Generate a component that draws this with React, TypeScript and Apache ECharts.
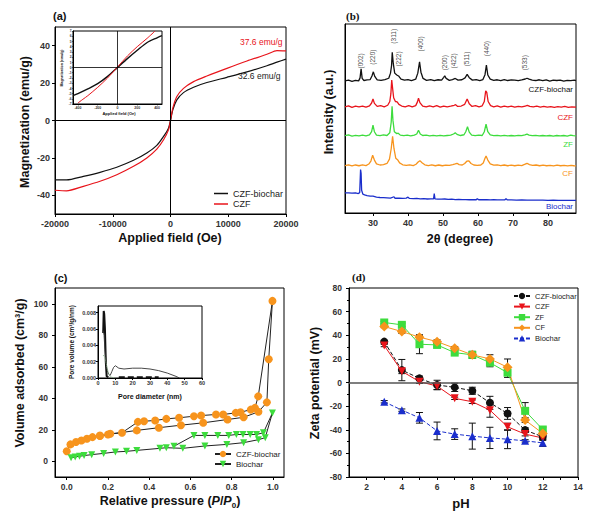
import React, { useEffect, useRef } from "react";
import * as echarts from "echarts";

// ---------- (a) magnetization ----------
const fieldOe = [-20000, -18000, -15090, -12200, -9300, -6400, -4100, -2370, -1200, -350, 0, 400, 1100, 2250, 4000, 6300, 9770, 13240, 16700, 18440, 20000];
const magCZFbiochar = [-31.8, -31.8, -29.9, -27.7, -25.0, -21.3, -17.4, -13.3, -8.5, -4.1, 0, 5.7, 11.0, 14.9, 17.8, 20.3, 23.1, 26.0, 29.3, 31.2, 32.8];
const magCZF = [-37.3, -37.6, -35.2, -32.5, -29.0, -24.5, -20.0, -15.3, -10.3, -5.0, 0, 6.6, 12.8, 17.2, 20.8, 23.8, 27.9, 31.8, 35.4, 37.4, 37.2];
const insetFieldBlack = [-450, -400, -300, -200, -100, 0, 100, 200, 300, 400, 450];
const insetMagBlack = [-5.4, -5.0, -4.1, -3.1, -1.7, 0, 1.7, 3.3, 4.8, 5.7, 6.1];
const insetFieldRed = [-400, -350, -300, -200, -100, 0, 100, 200, 300, 380];
const insetMagRed = [-6.8, -6.1, -5.4, -3.8, -2.0, 0.1, 2.2, 4.0, 5.6, 7.0];
const magTicks = [-40, -20, 0, 20, 40];
const fieldTicks = [-20000, -10000, 0, 10000, 20000];
const insetFieldTicks = [-400, -200, 0, 200, 400];

// ---------- (b) XRD ----------
const xrdCZFbiochar = [[22,69.9],[23,70.3],[24,69.7],[25,70.2],[25.9,69.9],[26.3,71.5],[26.6,76.3],[26.9,71.2],[27.4,70.1],[28.3,70.4],[29.2,70.6],[29.7,72.5],[30.1,74.7],[30.5,72.3],[31.2,70.4],[32.3,70.2],[33.4,70.6],[34.5,71.3],[35,74],[35.3,78],[35.5,85],[35.8,79],[36.2,74],[36.8,73],[37.3,72.5],[38,70.8],[39,70.3],[40,70.6],[41,70.1],[42.2,70.8],[42.8,74],[43.3,80],[43.7,74.5],[44.3,71.2],[45.3,70.2],[46.5,70.6],[47.5,70.0],[48.6,70.5],[49.6,70.3],[50.2,71.8],[50.5,72.6],[50.9,71.2],[51.8,70.2],[52.7,70.6],[53.5,71.2],[54.3,70.3],[55.4,70.5],[56.3,71.5],[56.9,73.3],[57.5,71.6],[58.4,70.3],[59.5,70.6],[60.5,70.1],[61.4,70.6],[62,73.2],[62.4,78.3],[62.8,73],[63.5,70.8],[64.5,70.2],[65.5,70.5],[66.5,70],[67.5,70.6],[68.5,70.1],[69.5,70.4],[70.5,70.3],[71.5,70.0],[72.5,70.4],[73.5,70.9],[74,71.3],[74.6,70.8],[75.5,70.3],[76.5,70.1],[77.5,70.5],[78.5,70.0],[79.5,70.4],[80.5,69.8],[81.5,70.3],[82.5,70.1],[83.5,70.3],[84.5,69.8],[85.5,70.2],[86.5,70.0],[87.5,70.3],[88,70.1]];
const xrdCZF = [[22,56.2],[23,56.7],[24,55.9],[25,56.5],[26,56.1],[27,56.6],[28,56.0],[29,56.7],[29.6,58.2],[30,60.3],[30.4,58],[31.2,56.4],[32.2,56.8],[33.2,56.2],[34.2,57],[34.8,59],[35.1,63],[35.35,70.3],[35.6,66],[35.9,61],[36.4,59],[36.9,58.8],[37.4,57.5],[38.2,56.6],[39.2,56.2],[40.2,56.8],[41.2,56.1],[42.2,56.8],[42.7,58.8],[43,60.8],[43.4,58.4],[44.2,56.5],[45.2,56.1],[46.2,56.7],[47.2,56.2],[48.2,56.8],[49.2,56.0],[50.2,56.6],[51.2,56.2],[52.2,56.5],[53.2,57],[53.6,57.3],[54.2,56.4],[55.2,56.6],[56.2,57.5],[56.9,60.3],[57.5,57.8],[58.3,56.4],[59.3,56.8],[60.3,56.2],[61.2,56.7],[61.8,59],[62.2,64.7],[62.5,63.8],[62.9,59],[63.6,56.8],[64.5,56.2],[65.5,56.7],[66.5,56.0],[67.5,56.6],[68.5,56.1],[69.5,56.5],[70.5,56.0],[71.5,56.4],[72.5,56.1],[73.5,56.6],[74.1,56.9],[74.8,56.4],[75.8,56.1],[76.8,56.5],[77.8,56.0],[78.8,56.4],[79.8,56.0],[80.8,56.3],[81.8,55.9],[82.8,56.3],[83.8,56.0],[84.8,56.4],[85.8,55.9],[86.8,56.2],[88,56.0]];
const xrdZF = [[22,40.9],[23,41.3],[24,40.7],[25,41.1],[26,40.8],[27,41.2],[28,40.8],[29,41.3],[29.6,43],[30,46.5],[30.4,43],[31,41.2],[32,40.9],[33,41.3],[34,41],[34.8,42.5],[35.2,48],[35.45,56.5],[35.7,49],[36.1,43],[36.8,42],[37.2,42.2],[37.8,41.2],[38.8,40.9],[39.8,41.2],[40.8,40.8],[41.8,41.2],[42.5,41.8],[43,43.8],[43.5,41.8],[44.2,41],[45.2,41.2],[46.2,40.8],[47.2,41.1],[48.2,40.8],[49.2,41.1],[50.2,40.8],[51.2,41],[52.2,41.2],[53,41.8],[53.5,42.4],[54,41.6],[55,41],[56,41.4],[56.5,43],[57,45.6],[57.5,42.8],[58.2,41.2],[59.2,40.9],[60.2,41.2],[61.2,41],[61.8,43],[62.3,47],[62.8,43],[63.5,41.3],[64.5,40.9],[65.5,41.1],[66.5,40.8],[67.5,41.1],[68.5,40.8],[69.5,41],[70.5,40.8],[71.5,41.1],[72.5,40.9],[73.4,41.3],[74,41.7],[74.6,41.2],[75.5,40.9],[76.5,41.1],[77.5,40.8],[78.5,41],[79.5,40.8],[80.5,41],[81.5,40.7],[82.5,41],[83.5,40.8],[84.5,41],[85.5,40.7],[86.5,41.2],[87.2,40.9],[88,40.8]];
const xrdCF = [[22,25.1],[23,25.5],[24,24.9],[25,25.4],[26,25],[27,25.5],[28,25.1],[28.8,25.9],[29.4,27.5],[29.9,30.6],[30.4,28],[31,26],[32,25.4],[33,25.6],[34,26.2],[34.7,28.5],[35.2,34],[35.6,40.6],[36,34],[36.5,29],[37.1,28],[37.6,26.5],[38.5,25.5],[39.5,25.2],[40.5,25.5],[41.5,25.1],[42.3,25.8],[42.9,27],[43.4,27.7],[44,26.6],[44.8,25.5],[45.8,25.1],[46.8,25.5],[47.8,25],[48.8,25.4],[49.8,25],[50.8,25.3],[51.8,25.2],[52.8,25.6],[53.5,26],[54,26.3],[54.6,25.6],[55.5,25.4],[56.2,26.2],[56.8,27.4],[57.4,27.6],[58,26.2],[58.8,25.4],[59.8,25.2],[60.8,25.4],[61.5,26.5],[62,29],[62.3,30.2],[62.8,28],[63.5,26],[64.5,25.3],[65.5,25.5],[66.5,25.1],[67.5,25.4],[68.5,25],[69.5,25.3],[70.5,25],[71.5,25.3],[72.5,25.1],[73.3,25.7],[74,26.3],[74.7,25.6],[75.6,25.2],[76.6,25.4],[77.6,25],[78.6,25.3],[79.6,25],[80.6,25.2],[81.6,24.9],[82.6,25.3],[83.6,25],[84.6,25.2],[85.6,24.9],[86.6,25.2],[87.4,25],[88,24.9]];
const xrdBiochar = [[22,10.6],[23,10.7],[24,10.5],[25,10.6],[25.8,10.3],[26.2,10.8],[26.45,23],[26.6,21],[26.75,12],[27.1,10],[27.6,9.6],[28.3,9.2],[29.2,8.9],[30,8.9],[31,8.4],[32,8.2],[33,8.1],[34,8.0],[35,7.9],[36,8.6],[36.3,7.8],[37.5,7.8],[38.5,7.7],[39.5,7.9],[40,8.4],[40.4,7.7],[41.5,7.6],[42.5,7.7],[43.5,7.5],[44.5,7.6],[45.5,7.4],[46.5,7.5],[47.3,7.5],[47.5,10.3],[47.7,7.5],[48.5,7.3],[49.5,7.3],[50.5,7.4],[51.5,7.2],[52.5,7.3],[53.5,7.1],[54.5,7.2],[55.5,7.1],[56.5,7.1],[57.5,7.0],[58.5,7.1],[59.5,7.0],[59.8,7.6],[60.2,7.0],[61.5,7.0],[62.5,7.1],[63.5,6.9],[64.5,7.0],[65.5,6.9],[66.5,6.9],[67.7,7.0],[68,7.6],[68.4,6.9],[69.5,6.9],[71,6.8],[72.5,6.9],[74,6.8],[75.5,6.8],[77,6.8],[78.5,6.8],[80,6.7],[81.5,6.8],[83,6.7],[84.5,6.7],[86,6.7],[88,6.7]];
const hklLabels = ["(002)", "(220)", "(311)", "(222)", "(400)", "(200)", "(422)", "(511)", "(440)", "(533)"];
const hklTheta = [26.5, 29.8, 35.8, 37.2, 43.6, 50.4, 53.1, 56.8, 62.3, 73.4];
const hklHeight = [80.5, 82.5, 93.5, 81.5, 89.5, 79.5, 80.5, 81.5, 87.0, 79.5];
const thetaTicks = [30, 40, 50, 60, 70, 80];

// ---------- (c) N2 isotherms ----------
const pressCZFbiochar = [0.0, 0.018, 0.045, 0.071, 0.098, 0.125, 0.161, 0.2, 0.34, 0.447, 0.554, 0.662, 0.78, 0.858, 0.93, 0.971, 0.98, 0.998, 0.929, 0.913, 0.893, 0.843, 0.82, 0.759, 0.724, 0.652, 0.617, 0.545, 0.483, 0.429, 0.375, 0.345, 0.268, 0.211, 0.161];
const volCZFbiochar = [6.3, 10.7, 12.2, 13.2, 14.3, 15.3, 16.0, 17.0, 19.6, 21.3, 22.9, 24.4, 26.5, 27.9, 31.4, 37.4, 64.8, 101.8, 41.2, 33.9, 32.8, 31.1, 30.7, 29.7, 29.7, 29.0, 28.6, 27.6, 26.9, 25.9, 25.4, 25.0, 18.1, 17.5, 16.3];
const pressBiochar = [0.021, 0.041, 0.062, 0.084, 0.121, 0.179, 0.236, 0.29, 0.34, 0.452, 0.483, 0.563, 0.67, 0.777, 0.858, 0.93, 0.963, 0.998, 0.954, 0.921, 0.89, 0.855, 0.823, 0.786, 0.733, 0.67, 0.617, 0.52];
const volBiochar = [2.3, 2.7, 3.2, 3.6, 4.2, 5.0, 5.9, 6.3, 6.9, 8.2, 8.6, 8.2, 9.7, 10.7, 11.8, 13.7, 15.0, 30.7, 18.1, 17.0, 17.0, 17.0, 17.0, 16.4, 16.4, 16.4, 16.4, 9.5];
const pressTicks = [0, 0.2, 0.4, 0.6, 0.8, 1.0];
const volTicks = [0, 20, 40, 60, 80, 100];
const poreDiaA = [3, 3.3, 3.6, 4, 4.5, 5, 6];
const poreVolA = [0.0055, 0.0082, 0.0078, 0.006, 0.002, 0.0002, 0.0001];
const poreDiaB = [3, 3.5, 4, 5, 6, 7, 8, 9, 10, 12, 15, 20, 25, 30, 35, 40, 45, 47];
const poreVolB = [0.0058, 0.0052, 0.0035, 0.0012, 0.0005, 0.0003, 0.0008, 0.0013, 0.0015, 0.0012, 0.0011, 0.0012, 0.0012, 0.0011, 0.0009, 0.0006, 0.0002, 0];
const poreDiaC = [3, 4, 5, 6, 7, 8, 9, 10];
const poreVolC = [0.0028, 0.0025, 0.0015, 0.0006, 0.0002, 0.0001, 0.00005, 0];
const poreDiaD = [12, 35];
const poreVolD = [0.0001, 0.0001];

// ---------- (d) zeta potential ----------
const pH = [3, 4, 5, 6, 7, 8, 9, 10, 11, 12];
const zetaCZFbiochar = [34.6, 10.5, 3.5, -2.1, -4.1, -7, -17.2, -26.2, -40.3, -46];
const zetaCZF = [31.3, 9.5, 0.7, -3, -13.4, -16.3, -23.4, -37.5, -43.7, -47];
const zetaZF = [50.8, 48.8, 32.4, 31.8, 25.3, 23.4, 16.8, 8.3, -24, -39.8];
const zetaCF = [47.4, 43.1, 38.4, 34.6, 29, 23.4, 20, 12.9, -31.8, -43.1];
const zetaBiochar = [-16.3, -23.4, -29.9, -41, -43.7, -45.4, -46.9, -48, -49.4, -51.1];
const errCZFbiochar = [1, 9, 2, 4, 3.5, 3, 5.5, 5, 2, 2];
const errCZF = [1, 2, 1.5, 3, 1, 1.5, 6, 3, 1.5, 2];
const errZF = [1, 1.5, 8, 1.5, 1.5, 2, 3.5, 4, 7, 2];
const errCF = [1, 1.5, 1.5, 1.5, 1.5, 3, 3.5, 7, 2, 2];
const errBiochar = [1, 1, 4.5, 7.5, 4.5, 11, 9, 8, 1, 3];
const pHLabelTicks = [2, 4, 6, 8, 10, 12, 14];
const pHMinorTicks = [2, 3, 4, 5, 6, 7, 8, 9, 10, 11, 12, 13, 14];

const FONT = "Liberation Sans, Arial, sans-serif";
const BLACK = "#111";
const RED = "#e8141b";
const GREEN = "#3ddc3d";
const ORANGE = "#f7941d";
const BLUE = "#1a2ecc";

const zip = (xs: number[], ys: number[]) => xs.map((x, i) => [x, ys[i]]);
const stripName = (n: string) => n.split(":")[1];
const plain = (v: number) => String(v);

const tickLbl = (size: number, extra: any = {}) => ({
  fontSize: size, fontWeight: "bold", color: "#333", fontFamily: FONT, ...extra,
});

const axisBase = (gridIndex: number, extra: any) => ({
  gridIndex,
  type: "value",
  axisLine: { show: true, onZero: false, lineStyle: { color: "#000", width: 1 } },
  axisTick: { show: true, length: 3, lineStyle: { color: "#000" } },
  splitLine: { show: false },
  ...extra,
});

function errorBars(name: string, xs: number[], ys: number[], es: number[], xi: number, yi: number) {
  return {
    type: "custom",
    name,
    xAxisIndex: xi,
    yAxisIndex: yi,
    z: 2,
    silent: true,
    encode: { x: 0, y: [1, 2] },
    data: xs.map((x, i) => [x, ys[i] - es[i], ys[i] + es[i]]),
    renderItem: (_p: any, api: any) => {
      const x = api.value(0);
      const lo = api.coord([x, api.value(1)]);
      const hi = api.coord([x, api.value(2)]);
      const w = 3.5;
      const st = { stroke: "#111", lineWidth: 1 };
      return {
        type: "group",
        children: [
          { type: "line", shape: { x1: lo[0], y1: lo[1], x2: hi[0], y2: hi[1] }, style: st },
          { type: "line", shape: { x1: lo[0] - w, y1: lo[1], x2: lo[0] + w, y2: lo[1] }, style: st },
          { type: "line", shape: { x1: hi[0] - w, y1: hi[1], x2: hi[0] + w, y2: hi[1] }, style: st },
        ],
      };
    },
  };
}

function txt(text: string, x: number, y: number, size: number, opts: any = {}) {
  return {
    type: "text",
    x, y,
    rotation: opts.rotation || 0,
    silent: true,
    style: {
      text,
      fill: opts.color || "#111",
      fontSize: size,
      fontWeight: opts.weight || "bold",
      fontFamily: opts.family || FONT,
      align: opts.align || "center",
      verticalAlign: "middle",
      rich: opts.rich,
    },
  };
}

function buildOption(): any {
  const grids = [
    { left: 55, top: 27, width: 231, height: 187 },   // 0 a main
    { left: 73, top: 31, width: 89, height: 73 },     // 1 a inset
    { left: 345, top: 24, width: 231, height: 189 },  // 2 b
    { left: 55, top: 288, width: 229, height: 189 },  // 3 c main
    { left: 98, top: 306, width: 104, height: 72 },   // 4 c inset
    { left: 349, top: 288, width: 229, height: 189 }, // 5 d
  ].map((g) => ({ ...g, show: true, borderColor: "#000", borderWidth: 1, backgroundColor: "transparent", containLabel: false }));

  const xAxis = [
    axisBase(0, { min: -20000, max: 20000, axisLabel: { ...tickLbl(9), margin: 5, customValues: fieldTicks, formatter: plain }, axisTick: { show: true, length: 3, lineStyle: { color: "#000" }, customValues: fieldTicks } }),
    axisBase(1, { min: -450, max: 450, axisLabel: { ...tickLbl(3.5), margin: 1.5, customValues: insetFieldTicks, formatter: plain }, axisTick: { show: true, length: 1.5, lineStyle: { color: "#000", width: 0.5 }, customValues: insetFieldTicks } }),
    axisBase(2, { min: 22, max: 88, axisLabel: { ...tickLbl(9), margin: 5, customValues: thetaTicks }, axisTick: { show: true, length: 3, lineStyle: { color: "#000" }, customValues: thetaTicks } }),
    axisBase(3, { min: -0.057, max: 1.054, axisLabel: { ...tickLbl(8.5), margin: 5, customValues: pressTicks, formatter: (v: number) => v.toFixed(1) }, axisTick: { show: true, length: 3, lineStyle: { color: "#000" }, customValues: pressTicks } }),
    axisBase(4, { min: 0, max: 60, interval: 10, axisLabel: { ...tickLbl(5.5), margin: 2 }, axisTick: { show: true, length: 2, lineStyle: { color: "#000" } } }),
    axisBase(5, { min: 1, max: 14, axisLabel: { ...tickLbl(8.5), margin: 5, customValues: pHLabelTicks }, axisTick: { show: true, length: 3, lineStyle: { color: "#000" }, customValues: pHMinorTicks } }),
  ];
  const yAxis = [
    axisBase(0, { min: -50, max: 50, axisLabel: { ...tickLbl(9), margin: 5, customValues: magTicks }, axisTick: { show: true, length: 3, lineStyle: { color: "#000" }, customValues: magTicks } }),
    axisBase(1, { min: -7, max: 7, interval: 1, axisLabel: { ...tickLbl(3.2), margin: 1.5 }, axisTick: { show: true, length: 1.2, lineStyle: { color: "#000", width: 0.5 } } }),
    axisBase(2, { min: 0, max: 100, axisLabel: { show: false }, axisTick: { show: false } }),
    axisBase(3, { min: -10, max: 110, axisLabel: { ...tickLbl(8.5), margin: 7, customValues: volTicks }, axisTick: { show: true, length: 3, lineStyle: { color: "#000" }, customValues: volTicks } }),
    axisBase(4, { min: 0, max: 0.0088, interval: 0.002, axisLabel: { ...tickLbl(5.5), margin: 2, showMaxLabel: false, formatter: (v: number) => v.toFixed(3) }, axisTick: { show: true, length: 2, lineStyle: { color: "#000" } } }),
    axisBase(5, { min: -80, max: 80, interval: 20, axisLabel: { ...tickLbl(8.5), margin: 7 }, minorTick: { show: true, splitNumber: 2, length: 2, lineStyle: { color: "#000" } } }),
  ];

  const zeroLineA = {
    silent: true, symbol: ["none", "none"], label: { show: false },
    lineStyle: { color: "#000", width: 1, type: "solid" },
    data: [{ xAxis: 0 }, { yAxis: 0 }],
  };

  const series: any[] = [
    // (a)
    { type: "line", name: "a:CZF-biochar", xAxisIndex: 0, yAxisIndex: 0, data: zip(fieldOe, magCZFbiochar), showSymbol: false, symbol: "none", smooth: 0.25, lineStyle: { color: BLACK, width: 1.2 }, itemStyle: { color: BLACK }, markLine: zeroLineA, z: 3 },
    { type: "line", name: "a:CZF", xAxisIndex: 0, yAxisIndex: 0, data: zip(fieldOe, magCZF), showSymbol: false, symbol: "none", smooth: 0.25, lineStyle: { color: RED, width: 1.2 }, itemStyle: { color: RED }, z: 3 },
    { type: "line", name: "ai:black", xAxisIndex: 1, yAxisIndex: 1, data: zip(insetFieldBlack, insetMagBlack), showSymbol: false, symbol: "none", smooth: 0.3, lineStyle: { color: BLACK, width: 1.4 }, markLine: { ...zeroLineA, lineStyle: { color: "#000", width: 0.8, type: "solid" } } },
    { type: "line", name: "ai:red", xAxisIndex: 1, yAxisIndex: 1, data: zip(insetFieldRed, insetMagRed), showSymbol: false, symbol: "none", smooth: 0.3, lineStyle: { color: RED, width: 1 } },
    // (b)
    ...[
      ["b:CZF-biochar", xrdCZFbiochar, BLACK],
      ["b:CZF", xrdCZF, RED],
      ["b:ZF", xrdZF, GREEN],
      ["b:CF", xrdCF, ORANGE],
      ["b:Biochar", xrdBiochar, BLUE],
    ].map(([n, d, c]) => ({ type: "line", name: n, xAxisIndex: 2, yAxisIndex: 2, data: d, showSymbol: false, symbol: "none", lineStyle: { color: c, width: 1.3 } })),
    {
      type: "scatter", name: "b:hkl", xAxisIndex: 2, yAxisIndex: 2, symbolSize: 1, itemStyle: { color: "transparent" },
      data: hklTheta.map((t, i) => [t, hklHeight[i], hklLabels[i]]),
      label: { show: true, position: "inside", rotate: 90, fontSize: 6.5, color: "#111", fontFamily: FONT, formatter: (p: any) => p.data[2] },
    },
    // (c)
    { type: "line", name: "c:CZF-biochar", xAxisIndex: 3, yAxisIndex: 3, data: zip(pressCZFbiochar, volCZFbiochar), symbol: "circle", symbolSize: 8, lineStyle: { color: "#222", width: 1 }, itemStyle: { color: ORANGE } },
    { type: "line", name: "c:Biochar", xAxisIndex: 3, yAxisIndex: 3, data: zip(pressBiochar, volBiochar), symbol: "triangle", symbolRotate: 180, symbolSize: 7, lineStyle: { color: "#222", width: 1 }, itemStyle: { color: GREEN } },
    { type: "line", name: "ci:A", xAxisIndex: 4, yAxisIndex: 4, data: zip(poreDiaA, poreVolA), showSymbol: false, symbol: "none", lineStyle: { color: "#111", width: 2 } },
    { type: "line", name: "ci:B", xAxisIndex: 4, yAxisIndex: 4, data: zip(poreDiaB, poreVolB), showSymbol: false, symbol: "none", lineStyle: { color: "#333", width: 0.9 } },
    { type: "line", name: "ci:C", xAxisIndex: 4, yAxisIndex: 4, data: zip(poreDiaC, poreVolC), showSymbol: false, symbol: "none", lineStyle: { color: "#8fbf8f", width: 1, type: "dotted" } },
    { type: "line", name: "ci:D", xAxisIndex: 4, yAxisIndex: 4, data: zip(poreDiaD, poreVolD), showSymbol: false, symbol: "none", lineStyle: { color: "#111", width: 2, type: [6, 3] } },
    // (d)
    errorBars("de:1", pH, zetaCZFbiochar, errCZFbiochar, 5, 5),
    errorBars("de:2", pH, zetaCZF, errCZF, 5, 5),
    errorBars("de:3", pH, zetaZF, errZF, 5, 5),
    errorBars("de:4", pH, zetaCF, errCF, 5, 5),
    errorBars("de:5", pH, zetaBiochar, errBiochar, 5, 5),
    {
      type: "line", name: "d:CZF-biochar", xAxisIndex: 5, yAxisIndex: 5, data: zip(pH, zetaCZFbiochar), symbol: "circle", symbolSize: 8, z: 4,
      lineStyle: { color: BLACK, width: 1, type: [4, 2] }, itemStyle: { color: BLACK },
      markLine: { silent: true, symbol: ["none", "none"], label: { show: false }, lineStyle: { color: "#555", width: 1.5, type: "solid" }, data: [{ yAxis: 0 }] },
    },
    { type: "line", name: "d:CZF", xAxisIndex: 5, yAxisIndex: 5, data: zip(pH, zetaCZF), symbol: "triangle", symbolRotate: 180, symbolSize: 8, z: 4, lineStyle: { color: RED, width: 1 }, itemStyle: { color: RED } },
    { type: "line", name: "d:ZF", xAxisIndex: 5, yAxisIndex: 5, data: zip(pH, zetaZF), symbol: "rect", symbolSize: 8, z: 4, lineStyle: { color: GREEN, width: 1 }, itemStyle: { color: GREEN } },
    { type: "line", name: "d:CF", xAxisIndex: 5, yAxisIndex: 5, data: zip(pH, zetaCF), symbol: "diamond", symbolSize: 10, z: 4, lineStyle: { color: ORANGE, width: 1 }, itemStyle: { color: ORANGE } },
    { type: "line", name: "d:Biochar", xAxisIndex: 5, yAxisIndex: 5, data: zip(pH, zetaBiochar), symbol: "triangle", symbolSize: 8, z: 4, lineStyle: { color: BLUE, width: 1, type: [4, 2] }, itemStyle: { color: BLUE } },
  ];

  const legendBase = {
    orient: "vertical", padding: 0, selectedMode: false, formatter: stripName,
    textStyle: { fontFamily: FONT, color: "#222" },
  };
  const legend = [
    {
      ...legendBase, left: 214, top: 189, itemWidth: 14, itemHeight: 1.5, itemGap: 1.5,
      data: [{ name: "a:CZF-biochar", icon: "rect" }, { name: "a:CZF", icon: "rect" }],
      textStyle: { ...legendBase.textStyle, fontSize: 9, lineHeight: 7 },
    },
    { ...legendBase, left: 214, top: 450, itemWidth: 16, itemHeight: 8, itemGap: 2, data: ["c:CZF-biochar", "c:Biochar"], textStyle: { ...legendBase.textStyle, fontSize: 8 } },
    { ...legendBase, left: 513, top: 292, itemWidth: 16, itemHeight: 8, itemGap: 2.6, data: ["d:CZF-biochar", "d:CZF", "d:ZF", "d:CF", "d:Biochar"], textStyle: { ...legendBase.textStyle, fontSize: 7.5 } },
  ];

  const R90 = Math.PI / 2;
  const graphic = [
    txt("(a)", 53, 16, 11, { align: "left" }),
    txt("(b)", 346, 16, 11, { align: "left", family: "Liberation Serif, Times New Roman, serif" }),
    txt("(c)", 54, 278, 11, { align: "left" }),
    txt("(d)", 352, 277, 11, { align: "left", family: "Liberation Serif, Times New Roman, serif" }),
    txt("Magnetization (emu/g)", 25, 122, 12.5, { rotation: R90 }),
    txt("Applied field (Oe)", 170, 238, 12.5),
    txt("Magnetization (emu/g)", 62, 68, 3.5, { rotation: R90 }),
    txt("Applied field (Oe)", 119, 113, 4),
    txt("37.6 emu/g", 240, 42, 8.5, { align: "left", color: RED, weight: "normal" }),
    txt("32.6 emu/g", 238, 76, 8.5, { align: "left", color: "#222", weight: "normal" }),
    txt("Intensity (a.u.)", 329, 112, 12.5, { rotation: R90 }),
    txt("2θ (degree)", 460, 239, 12.5),
    txt("CZF-biochar", 573, 89, 8, { align: "right", color: BLACK, weight: "normal" }),
    txt("CZF", 573, 117, 8, { align: "right", color: RED, weight: "normal" }),
    txt("ZF", 573, 144, 8, { align: "right", color: GREEN, weight: "normal" }),
    txt("CF", 573, 173, 8, { align: "right", color: ORANGE, weight: "normal" }),
    txt("Biochar", 573, 206, 8, { align: "right", color: BLUE, weight: "normal" }),
    txt("Volume adsorbed (cm³/g)", 20, 373, 12.5, { rotation: R90 }),
    txt("Relative pressure ({i|P}/{i|P}{s|0})", 170, 501, 12.5, {
      rich: {
        i: { fontStyle: "italic", fontWeight: "bold", fontSize: 12.5, fontFamily: FONT, fill: "#111" },
        s: { fontWeight: "bold", fontSize: 8, fontFamily: FONT, fill: "#111", padding: [8, 0, 0, 0] },
      },
    }),
    txt("Pore volume (cm³/g/nm)", 71, 342, 6.5, { rotation: R90 }),
    txt("Pore diameter (nm)", 150, 396, 7),
    txt("Zeta potential (mV)", 315, 383, 12.5, { rotation: R90 }),
    txt("pH", 461, 503, 13),
  ];

  return {
    animation: false,
    backgroundColor: "#fff",
    textStyle: { fontFamily: FONT },
    grid: grids,
    xAxis,
    yAxis,
    legend,
    series,
    graphic,
  };
}

export default function App() {
  const ref = useRef<HTMLDivElement>(null);
  useEffect(() => {
    if (!ref.current) return;
    const chart = echarts.init(ref.current, null, { renderer: "svg" });
    chart.setOption(buildOption());
    return () => chart.dispose();
  }, []);
  return <div ref={ref} style={{ position: "fixed", left: 0, top: 0, width: 604, height: 520, background: "#fff" }} />;
}
